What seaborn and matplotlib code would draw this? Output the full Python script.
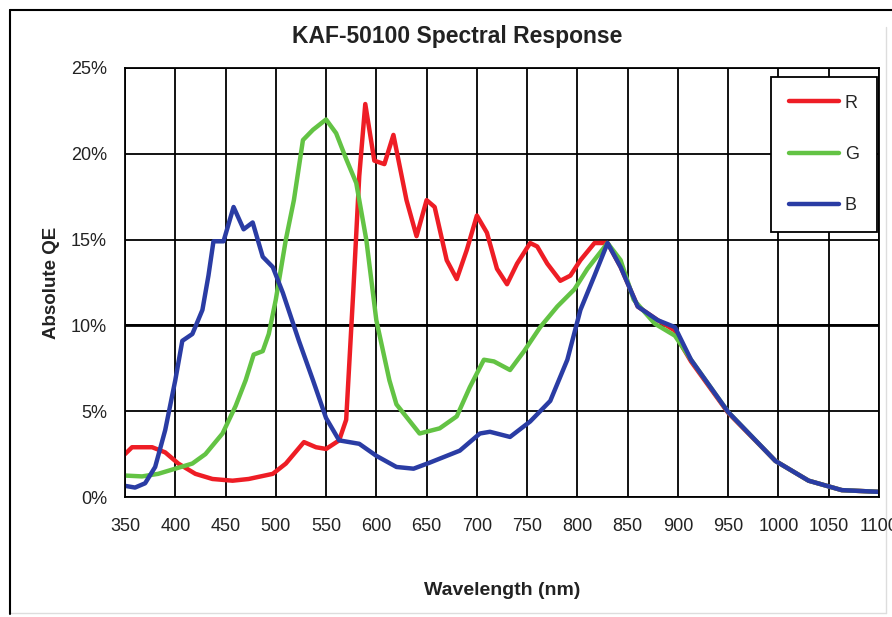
import pandas as pd
import seaborn as sns
import matplotlib.pyplot as plt
from matplotlib.lines import Line2D
from matplotlib.ticker import FuncFormatter, MultipleLocator

# R channel (wavelength nm, absolute QE %)
wl_r = [350, 357, 377, 390, 403, 420, 437, 457, 473, 497, 510, 528, 540, 550,
        563, 570, 577, 583, 589, 598, 608, 617, 630, 640, 650, 658, 670, 680,
        690, 700, 710, 720, 730, 740, 753, 760, 770, 783, 793, 803, 817, 830,
        843, 860, 880, 897, 903, 913, 950, 997, 1030, 1063, 1100]
qe_r = [2.5, 2.9, 2.9, 2.6, 1.95, 1.35, 1.05, 0.95, 1.05, 1.35, 1.95, 3.2, 2.9, 2.8,
        3.3, 4.5, 11.9, 18.7, 22.9, 19.6, 19.4, 21.1, 17.3, 15.2, 17.3, 16.9, 13.8, 12.7,
        14.4, 16.4, 15.4, 13.3, 12.4, 13.6, 14.8, 14.6, 13.6, 12.6, 12.9, 13.8, 14.8, 14.8,
        13.4, 11.1, 10.3, 9.7, 8.9, 7.9, 4.9, 2.1, 0.95, 0.4, 0.3]

# G channel
wl_g = [350, 367, 383, 400, 417, 430, 447, 460, 470, 478, 487, 493, 500, 510,
        518, 527, 537, 550, 560, 570, 580, 590, 600, 613, 620, 643, 663, 680,
        693, 707, 717, 733, 747, 763, 780, 797, 810, 830, 843, 856, 877, 897,
        913, 950, 997, 1030, 1063, 1100]
qe_g = [1.25, 1.2, 1.35, 1.65, 1.95, 2.5, 3.7, 5.3, 6.8, 8.3, 8.5, 9.5, 11.5, 15.0,
        17.3, 20.8, 21.4, 22.0, 21.2, 19.7, 18.3, 15.0, 10.3, 6.8, 5.4, 3.7, 4.0, 4.7,
        6.4, 8.0, 7.9, 7.4, 8.5, 9.9, 11.1, 12.1, 13.3, 14.8, 13.8, 11.5, 10.1, 9.4,
        8.0, 4.95, 2.1, 0.95, 0.4, 0.3]

# B channel
wl_b = [350, 360, 370, 380, 390, 400, 407, 417, 427, 433, 438, 448, 458, 468,
        477, 487, 497, 507, 523, 537, 550, 563, 583, 600, 620, 637, 653, 683,
        703, 713, 733, 753, 773, 790, 803, 817, 830, 843, 860, 880, 897, 913,
        950, 997, 1030, 1063, 1100]
qe_b = [0.65, 0.55, 0.8, 1.75, 3.9, 6.8, 9.1, 9.5, 10.9, 12.9, 14.9, 14.9, 16.9, 15.6,
        16.0, 14.0, 13.4, 11.9, 9.1, 6.8, 4.6, 3.3, 3.1, 2.4, 1.75, 1.65, 2.0, 2.7,
        3.7, 3.8, 3.5, 4.4, 5.6, 8.0, 10.9, 12.9, 14.8, 13.4, 11.1, 10.3, 9.9, 8.0,
        4.95, 2.1, 0.95, 0.4, 0.3]

channels = ["R", "G", "B"]
colors = {"R": "#ee1d25", "G": "#63c344", "B": "#2a3ca4"}

df = pd.concat([
    pd.DataFrame({"wl": wl_r, "qe": qe_r, "ch": "R"}),
    pd.DataFrame({"wl": wl_g, "qe": qe_g, "ch": "G"}),
    pd.DataFrame({"wl": wl_b, "qe": qe_b, "ch": "B"}),
])

sns.set_theme(style="white")
plt.rcParams["font.family"] = ["Liberation Sans", "DejaVu Sans"]

fig = plt.figure(figsize=(8.92, 6.17), dpi=100)
ax = fig.add_axes([125 / 892, 1 - 497 / 617, 754 / 892, 429 / 617])

sns.lineplot(data=df, x="wl", y="qe", hue="ch", hue_order=channels,
             palette=colors, linewidth=3.2, sort=False, estimator=None, ax=ax)

ax.set_xlim(350, 1100)
ax.set_ylim(0, 25)
ax.xaxis.set_major_locator(MultipleLocator(50))
ax.yaxis.set_major_locator(MultipleLocator(5))
ax.yaxis.set_major_formatter(FuncFormatter(lambda v, p: f"{v:.0f}%"))
ax.grid(True, color="black", linewidth=1.3)
ax.axhline(10, color="black", linewidth=2.0, zorder=1)
ax.set_axisbelow(True)
for s in ax.spines.values():
    s.set_color("black")
    s.set_linewidth(1.3)
ax.tick_params(axis="both", direction="out", length=7, width=1.3,
               color="black", labelsize=13, labelcolor="#222222")
ax.tick_params(axis="x", pad=8)
ax.tick_params(axis="y", pad=6)

# the title sits centred on the whole chart box, not the plot area
ax.set_title("KAF-50100 Spectral Response", fontsize=16.5, fontweight="bold",
             x=0.44, pad=18, color="#222222")
ax.set_xlabel("Wavelength (nm)", fontsize=14, fontweight="bold",
              labelpad=34, color="#222222")
ax.set_ylabel("Absolute QE", fontsize=13.5, fontweight="bold",
              labelpad=8, color="#222222")

leg = ax.legend(loc="upper right", bbox_to_anchor=(0.997, 0.98), frameon=True,
                fancybox=False, edgecolor="black", framealpha=1, fontsize=13,
                handlelength=2.8, labelspacing=1.9, borderpad=1.0,
                handletextpad=0.3, borderaxespad=0)
leg.get_frame().set_linewidth(1.3)
leg.set_title(None)

# outer chart frame
fig.add_artist(Line2D([10 / 892, 10 / 892], [3 / 617, 1 - 10 / 617],
                      transform=fig.transFigure, color="black", linewidth=1.5))
fig.add_artist(Line2D([10 / 892, 1], [1 - 10 / 617, 1 - 10 / 617],
                      transform=fig.transFigure, color="black", linewidth=1.5))
fig.add_artist(Line2D([886 / 892, 886 / 892], [4 / 617, 590 / 617],
                      transform=fig.transFigure, color="#dddddd", linewidth=1.0,
                      zorder=0))
fig.add_artist(Line2D([10 / 892, 886 / 892], [4 / 617, 4 / 617],
                      transform=fig.transFigure, color="#dddddd", linewidth=1.0,
                      zorder=0))

fig.savefig("out.png", dpi=100)
plt.close(fig)
